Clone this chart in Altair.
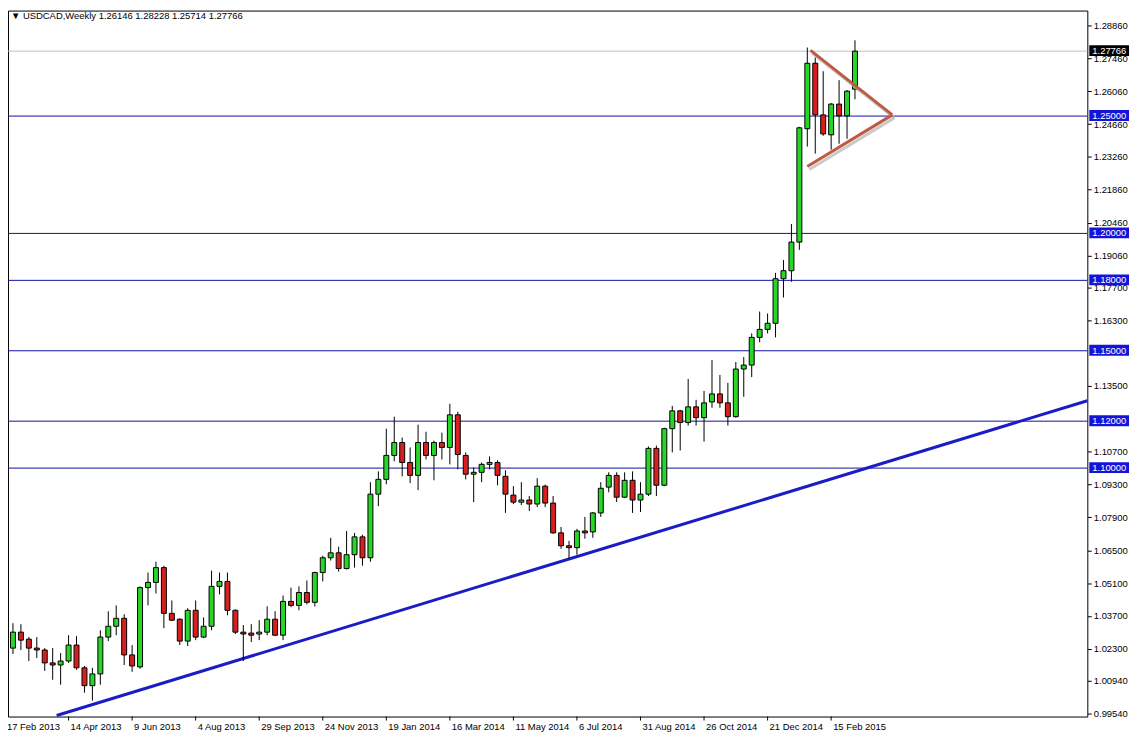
import altair as alt
import pandas as pd

# ---------------- data ----------------
opens = [1.0073, 1.0233, 1.0301, 1.0271, 1.0233, 1.0225, 1.0170, 1.0161, 1.0178, 1.0246,
         1.0149, 1.0073, 1.0123, 1.0280, 1.0326, 1.0360, 1.0204, 1.0153, 1.0491, 1.0513,
         1.0576, 1.0381, 1.0356, 1.0263, 1.0394, 1.0280, 1.0326, 1.0496, 1.0517, 1.0394,
         1.0301, 1.0297, 1.0293, 1.0301, 1.0356, 1.0288, 1.0432, 1.0415, 1.0470, 1.0428,
         1.0555, 1.0618, 1.0639, 1.0572, 1.0631, 1.0707, 1.0618, 1.0889, 1.0952, 1.1054,
         1.1109, 1.1024, 1.0969, 1.1109, 1.1054, 1.1109, 1.1088, 1.1227, 1.1054, 1.0974,
         1.0982, 1.1016, 1.1024, 1.0965, 1.0885, 1.0855, 1.0864, 1.0847, 1.0923, 1.0851,
         1.0724, 1.0669, 1.0661, 1.0732, 1.0728, 1.0809, 1.0919, 1.0969, 1.0876, 1.0948,
         1.0864, 1.0889, 1.1084, 1.0927, 1.1168, 1.1244, 1.1194, 1.1261, 1.1215, 1.1282,
         1.1316, 1.1278, 1.1219, 1.1422, 1.1439, 1.1557, 1.1591, 1.1617, 1.1807, 1.1841,
         1.1963, 1.2446, 1.2725, 1.2505, 1.2420, 1.2551, 1.2501, 1.26146]
highs = [1.0250, 1.0339, 1.0335, 1.0280, 1.0280, 1.0233, 1.0233, 1.0212, 1.0288, 1.0284,
         1.0157, 1.0149, 1.0309, 1.0390, 1.0415, 1.0377, 1.0246, 1.0496, 1.0555, 1.0601,
         1.0584, 1.0436, 1.0360, 1.0403, 1.0436, 1.0364, 1.0563, 1.0555, 1.0555, 1.0398,
         1.0331, 1.0335, 1.0352, 1.0411, 1.0390, 1.0457, 1.0491, 1.0496, 1.0521, 1.0559,
         1.0627, 1.0703, 1.0665, 1.0732, 1.0724, 1.0716, 1.0940, 1.0986, 1.1168, 1.1219,
         1.1130, 1.1088, 1.1185, 1.1155, 1.1117, 1.1151, 1.1274, 1.1240, 1.1067, 1.1003,
         1.1024, 1.1050, 1.1033, 1.0991, 1.0923, 1.0940, 1.0881, 1.0957, 1.0930, 1.0881,
         1.0749, 1.0690, 1.0741, 1.0792, 1.0813, 1.0940, 1.0982, 1.0982, 1.0982, 1.0986,
         1.0940, 1.1092, 1.1096, 1.1172, 1.1265, 1.1248, 1.1380, 1.1291, 1.1329, 1.1460,
         1.1397, 1.1363, 1.1452, 1.1473, 1.1574, 1.1667, 1.1659, 1.1832, 1.1887, 1.2040,
         1.2454, 1.2792, 1.2750, 1.2691, 1.2556, 1.2653, 1.2611, 1.28228]
lows = [1.0056, 1.0208, 1.0225, 1.0178, 1.0191, 1.0136, 1.0098, 1.0077, 1.0170, 1.0140,
        1.0043, 1.0009, 1.0077, 1.0263, 1.0288, 1.0161, 1.0132, 1.0145, 1.0415, 1.0466,
        1.0318, 1.0348, 1.0246, 1.0242, 1.0267, 1.0276, 1.0309, 1.0462, 1.0373, 1.0293,
        1.0178, 1.0259, 1.0267, 1.0288, 1.0284, 1.0267, 1.0407, 1.0394, 1.0419, 1.0411,
        1.0517, 1.0606, 1.0559, 1.0568, 1.0576, 1.0584, 1.0601, 1.0838, 1.0931, 1.1029,
        1.0965, 1.0936, 1.0906, 1.1037, 1.0948, 1.1037, 1.1016, 1.0995, 1.0952, 1.0855,
        1.0940, 1.0995, 1.0927, 1.0809, 1.0847, 1.0843, 1.0817, 1.0834, 1.0834, 1.0720,
        1.0656, 1.0614, 1.0631, 1.0699, 1.0703, 1.0792, 1.0897, 1.0855, 1.0872, 1.0809,
        1.0813, 1.0881, 1.0881, 1.0923, 1.1067, 1.1075, 1.1181, 1.1181, 1.1113, 1.1257,
        1.1257, 1.1181, 1.1215, 1.1304, 1.1388, 1.1536, 1.1574, 1.1557, 1.1727, 1.1794,
        1.1930, 1.2370, 1.2340, 1.2416, 1.2357, 1.2382, 1.2403, 1.25714]
closes = [1.0233, 1.0301, 1.0267, 1.0233, 1.0225, 1.0170, 1.0161, 1.0178, 1.0246, 1.0149,
          1.0073, 1.0123, 1.0280, 1.0326, 1.0360, 1.0204, 1.0157, 1.0491, 1.0513, 1.0576,
          1.0381, 1.0352, 1.0263, 1.0394, 1.0280, 1.0326, 1.0496, 1.0517, 1.0394, 1.0301,
          1.0293, 1.0288, 1.0301, 1.0356, 1.0288, 1.0432, 1.0415, 1.0470, 1.0428, 1.0555,
          1.0618, 1.0639, 1.0572, 1.0631, 1.0707, 1.0618, 1.0889, 1.0952, 1.1054, 1.1109,
          1.1024, 1.0969, 1.1109, 1.1054, 1.1109, 1.1088, 1.1227, 1.1058, 1.0974, 1.0982,
          1.1016, 1.1024, 1.0969, 1.0889, 1.0855, 1.0864, 1.0847, 1.0923, 1.0851, 1.0724,
          1.0669, 1.0661, 1.0732, 1.0724, 1.0809, 1.0914, 1.0969, 1.0876, 1.0948, 1.0864,
          1.0889, 1.1084, 1.0927, 1.1168, 1.1244, 1.1194, 1.1261, 1.1215, 1.1278, 1.1316,
          1.1278, 1.1219, 1.1422, 1.1439, 1.1557, 1.1591, 1.1617, 1.1807, 1.1841, 1.1963,
          1.2450, 1.2725, 1.2505, 1.2424, 1.2551, 1.2501, 1.2606, 1.27766]

# date axis (one bar per week, label every 8 weeks)
tick_weeks = [0, 8, 16, 24, 32, 40, 48, 56, 64, 72, 80, 88, 96, 104]
tick_labels = ["17 Feb 2013", "14 Apr 2013", "9 Jun 2013", "4 Aug 2013", "29 Sep 2013",
               "24 Nov 2013", "19 Jan 2014", "16 Mar 2014", "11 May 2014", "6 Jul 2014",
               "31 Aug 2014", "26 Oct 2014", "21 Dec 2014", "15 Feb 2015"]

# price scale labels visible on the right (1.14900 and 1.12100 are fully hidden there)
price_ticks = [1.2886, 1.2746, 1.2606, 1.2466, 1.2326, 1.2186, 1.2046, 1.1906, 1.1770,
               1.1630, 1.1350, 1.1070, 1.0930, 1.0790, 1.0650, 1.0510,
               1.0370, 1.0230, 1.0094, 0.9954]

levels = [1.25, 1.20, 1.18, 1.15, 1.12, 1.10]
level_labels = ["1.25000", "1.20000", "1.18000", "1.15000", "1.12000", "1.10000"]
last_price = 1.27766
last_label = "1.27766"

trend_weeks = [6.5, 136.25]
trend_prices = [0.9946, 1.1287]

tri_segments = ["upper", "upper", "lower", "lower"]
tri_weeks = [101.4, 111.7, 101.0, 111.7]
tri_prices = [1.2780, 1.2505, 1.2285, 1.2505]

title_text = "▼ USDCAD,Weekly  1.26146 1.28228 1.25714 1.27766"

# ---------------- styling ----------------
FONT = "Liberation Sans"
FS = 9.5
W, H = 1087, 711
GREEN = "#27d627"
RED = "#d81f1f"
HLINE = "#12129e"
BOX = "#1414d8"
TREND = "#1c1cc6"
TRI = "#bf5a43"

candles = pd.DataFrame({"week": list(range(len(opens))), "open": opens, "high": highs,
                        "low": lows, "close": closes})
candles["lo"] = candles[["open", "close"]].min(axis=1)
candles["hi"] = candles[["open", "close"]].max(axis=1)
candles["dir"] = ["up" if c >= o else "down" for o, c in zip(opens, closes)]

xs = alt.Scale(domain=[0.375, 136.25], nice=False, zero=False, padding=0)
ys = alt.Scale(domain=[0.99414, 1.29495], nice=False, zero=False, padding=0)

yaxis = alt.Axis(orient="right", values=price_ticks, format=".5f", title=None, grid=False,
                 domain=False, ticks=True, tickSize=4, tickColor="black", tickWidth=1,
                 labelFont=FONT, labelFontSize=FS, labelColor="black", labelPadding=2,
                 labelOverlap=False, labelBound=False)


def X(field):
    return alt.X(field, type="quantitative", scale=xs, axis=None)


def Y(field):
    return alt.Y(field, type="quantitative", scale=ys, axis=yaxis)


df_levels = pd.DataFrame({"price": levels, "label": level_labels})
df_last = pd.DataFrame({"price": [last_price], "label": [last_label]})
df_trend = pd.DataFrame({"week": trend_weeks, "price": trend_prices})
df_tri = pd.DataFrame({"seg": tri_segments, "week": tri_weeks, "price": tri_prices})
df_xt = pd.DataFrame({"week": tick_weeks, "label": tick_labels})
df_title = pd.DataFrame({"t": [title_text]})

hlines = alt.Chart(df_levels).mark_rule(color=HLINE, strokeWidth=1).encode(
    y=Y("price"), x=alt.value(0), x2=alt.value(W))

lastline = alt.Chart(df_last).mark_rule(color="#c0c0c0", strokeWidth=1).encode(
    y=Y("price"), x=alt.value(0), x2=alt.value(W))

trend = alt.Chart(df_trend).mark_line(color=TREND, strokeWidth=3).encode(
    x=X("week"), y=Y("price"))

wicks = alt.Chart(candles).mark_rule(color="black", strokeWidth=1).encode(
    x=X("week"), y=Y("low"), y2="high:Q")

bodies = alt.Chart(candles).mark_bar(size=5, stroke="black", strokeWidth=1).encode(
    x=X("week"), y=Y("lo"), y2="hi:Q",
    color=alt.Color("dir:N", scale=alt.Scale(domain=["up", "down"], range=[GREEN, RED]),
                    legend=None))

tri_shadow = alt.Chart(df_tri).mark_line(color="#b4b4b4", strokeWidth=3, opacity=0.7,
                                         xOffset=2, yOffset=3).encode(
    x=X("week"), y=Y("price"), detail="seg:N")

tri = alt.Chart(df_tri).mark_line(color=TRI, strokeWidth=3).encode(
    x=X("week"), y=Y("price"), detail="seg:N")

level_boxes = alt.Chart(df_levels).mark_rect(yOffset=-6, y2Offset=5, color=BOX).encode(
    y=Y("price"), y2="price:Q", x=alt.value(W + 2), x2=alt.value(W + 42))

last_box = alt.Chart(df_last).mark_rect(yOffset=-6, y2Offset=5, color="black").encode(
    y=Y("price"), y2="price:Q", x=alt.value(W + 2), x2=alt.value(W + 42))

level_text = alt.Chart(df_levels).mark_text(align="left", baseline="middle", color="white",
                                            font=FONT, fontSize=FS).encode(
    y=Y("price"), x=alt.value(W + 5), text="label:N")

last_text = alt.Chart(df_last).mark_text(align="left", baseline="middle", color="white",
                                         font=FONT, fontSize=FS).encode(
    y=Y("price"), x=alt.value(W + 5), text="label:N")

xticks = alt.Chart(df_xt).mark_rule(color="black", strokeWidth=1).encode(
    x=X("week"), y=alt.value(H), y2=alt.value(H + 4))

xlabels = alt.Chart(df_xt).mark_text(align="left", baseline="top", dx=2, font=FONT,
                                     fontSize=FS, color="black").encode(
    x=X("week"), y=alt.value(H + 6), text="label:N")

title = alt.Chart(df_title).mark_text(align="left", baseline="middle", font=FONT,
                                      fontSize=FS, color="black").encode(
    x=alt.value(3), y=alt.value(5), text="t:N")

chart = alt.layer(
    hlines, lastline, trend, wicks, bodies, tri_shadow, tri,
    level_boxes, last_box, level_text, last_text,
    xticks, xlabels, title
).properties(
    width=W, height=H,
    autosize=alt.AutoSizeParams(type="none"),
    padding={"left": 0, "top": 0, "right": 45, "bottom": 16},
    background="white",
).configure_view(stroke="black", strokeWidth=1)

chart.save("out.html", embed_options={"renderer": "svg", "actions": False})
